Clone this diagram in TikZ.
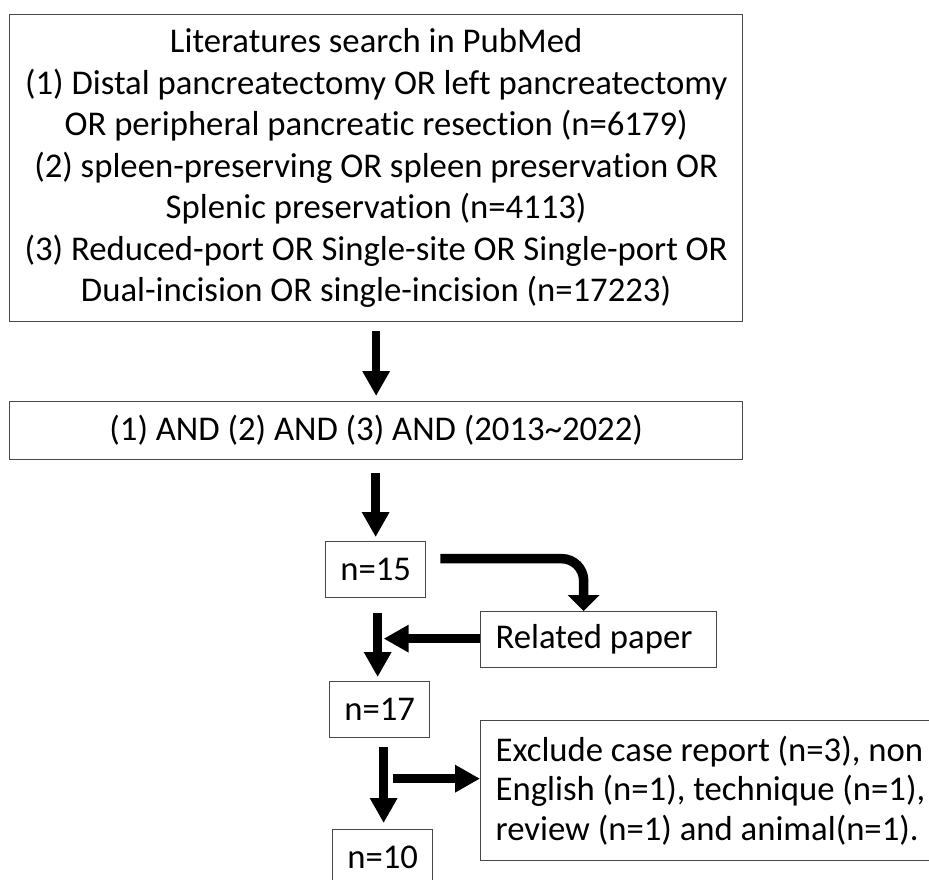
\documentclass[tikz,border=0pt]{standalone}
\usepackage{fontspec}
\setmainfont{Carlito}[Ligatures={NoCommon}]
\usetikzlibrary{arrows.meta,calc}
\begin{document}
\begin{tikzpicture}[x=1pt,y=-1pt,
  box/.style={draw=black!72, line width=1.3pt, rectangle, inner sep=0pt, anchor=north west,
    font=\fontsize{34.7}{41.5}\selectfont, text=black},
  blk/.style={line width=8.5pt, draw=black, -{Triangle[length=25pt,width=26pt]}},
  ]
\useasboundingbox (0,0) rectangle (929,879);
\node[box, minimum width=733pt, minimum height=307pt, align=center] (top) at (9,14)
  {Literatures search in PubMed\\
   (1) Distal pancreatectomy OR left pancreatectomy\\
   OR peripheral pancreatic resection (n=6179)\\
   (2) spleen-preserving OR spleen preservation OR\\
   Splenic preservation (n=4113)\\
   (3) Reduced-port OR Single-site OR Single-port OR\\
   Dual-incision OR single-incision (n=17223)};
\node[box, minimum width=733pt, minimum height=58pt, align=center] (mid) at (9,401)
  {(1) AND (2) AND (3) AND (2013\textasciitilde 2022)};
\node[box, minimum width=100pt, minimum height=56pt] (n15) at (325,541) {n=15};
\node[box, minimum height=56pt, inner xsep=15pt, text width=206pt, align=flush left] (rel) at (480,611) {Related paper};
\node[box, minimum width=100pt, minimum height=56pt] (n17) at (329,681) {n=17};
\node[box, minimum width=100pt, minimum height=56pt] (n10) at (332,829) {n=10};
\node[box, minimum height=140pt, inner xsep=15pt, text width=440pt, align=flush left,
  font=\fontsize{34.7}{39.5}\selectfont] (exc) at (480,720)
  {Exclude case report (n=3), non\\
   English (n=1), technique (n=1),\\
   review (n=1) and animal(n=1).};
% arrows
\draw[blk, shorten <=9pt, shorten >=5pt] (top.south) -- (mid.north);
\draw[blk, shorten <=13pt, shorten >=4pt] (n15.north |- mid.south) -- (n15.north);
\coordinate (c1) at ($(n15.east)+(14,-11)$);
\coordinate (c2) at ($(rel.north)+(-15,0)$);
\draw[line width=9.5pt, -{Triangle[length=16pt,width=31pt]}, rounded corners=22pt] (c1) -| (c2);
\coordinate (c3) at ($(rel.west -| n17.north)+(4,-1)$);
\draw[blk] ($(rel.west)+(0,-1)$) -- (c3);
\draw[blk, shorten <=15pt, shorten >=4pt] ($(n15.south)+(2,0)$) -- ($(n17.north)+(-2,0)$);
\draw[blk, shorten <=9pt, shorten >=6pt] ($(n17.south)+(4,0)$) -- ($(n10.north)+(1,0)$);
\coordinate (e1) at ($(exc.west)+(0,-12)$);
\draw[blk] ($(n17.south |- e1)+(13,0)$) -- (e1);
\end{tikzpicture}
\end{document}
